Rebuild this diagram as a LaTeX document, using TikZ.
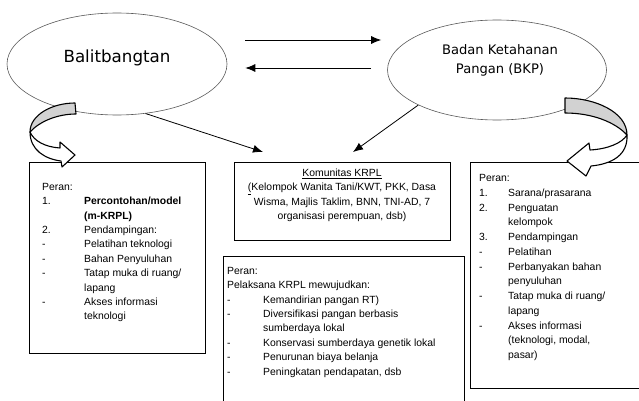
\documentclass[tikz,border=0pt]{standalone}
\usepackage{fontspec}
\setmainfont{Liberation Sans}
\newfontfamily\elipsfont{DejaVu Sans}
\usetikzlibrary{arrows.meta,shapes.geometric}

\tikzset{
  elips/.style={ellipse, draw=black!65, line width=0.6pt, inner sep=0pt},
  kotak/.style={draw, line width=0.8pt, inner sep=0pt},
  isi/.style={anchor=north west, inner sep=0pt, font=\fontsize{10.4}{14.4}\selectfont},
  panah/.style={-{Latex[length=10pt,width=8pt]}, line width=0.8pt},
  lengkung/.style={line width=1.1pt, line join=round}
}

\begin{document}
\begin{tikzpicture}[x=1pt,y=1pt]
        \useasboundingbox (0,0) rectangle (639,-401);

        % Lembaga
        \node[elips, minimum width=220, minimum height=102] (balit) at (117,-64) {};
        \node[font=\elipsfont\fontsize{16.7}{20}\selectfont] (balitnama) at (117,-58) {Balitbangtan};
        \node[elips, minimum width=219, minimum height=100] (bkp) at (497,-70) {};
        \node[font=\elipsfont\fontsize{13.1}{19}\selectfont, align=center] (bkpnama) at (500,-60) {Badan Ketahanan\\Pangan (BKP)};

        \draw[panah] ([shift={(18,24)}]balit.east) -- ([shift={(-6,30)}]bkp.west);
        \draw[panah] ([shift={(-16,2)}]bkp.west) -- ([shift={(18,-4)}]balit.east);

        % Kotak
        \node[kotak, minimum width=176, minimum height=191] (peranbalit) at (117,-257.5) {};
        \node[kotak, minimum width=216, minimum height=78] (komunitas) at (342,-201) {};
        \node[kotak, minimum width=241, minimum height=154] (peranmasy) at (343.5,-333) {};
        \node[kotak, minimum width=175, minimum height=226] (peranbkp) at (557.5,-275) {};

        \coordinate (tipkiri) at (263,-152);
        \coordinate (tipkanan) at (353,-152);
        \draw[panah] (balit.-60) -- (tipkiri);
        \draw[panah] (bkp.204) -- (tipkanan);

        % Isi kotak
        \node[isi] (teksbalit) at (42,-180) {\begin{tabular}{@{}p{42pt}@{}l@{}}
            Peran: & \\
            1. & \textbf{Percontohan/model}\\
               & \textbf{(m-KRPL)}\\
            2. & Pendampingan:\\
            -  & Pelatihan teknologi\\
            -  & Bahan Penyuluhan\\
            -  & Tatap muka di ruang/\\
               & lapang\\
            -  & Akses informasi\\
               & teknologi
        \end{tabular}};

        \node[isi, anchor=north] (tekskom) at (342,-166) {\begin{tabular}{@{}c@{}}
            \underline{Komunitas KRPL}\\
            \underline{(}Kelompok Wanita Tani/KWT, PKK, Dasa\\
            Wisma, Majlis Taklim, BNN, TNI-AD, 7\\
            organisasi perempuan, dsb)
        \end{tabular}};

        \node[isi] (teksmasy) at (227,-264) {\begin{tabular}{@{}p{36pt}@{}l@{}}
            \multicolumn{2}{@{}l@{}}{Peran:}\\
            \multicolumn{2}{@{}l@{}}{Pelaksana KRPL mewujudkan:}\\
            - & Kemandirian pangan RT)\\
            - & Diversifikasi pangan berbasis\\
              & sumberdaya lokal\\
            - & Konservasi sumberdaya genetik lokal\\
            - & Penurunan biaya belanja\\
            - & Peningkatan pendapatan, dsb
        \end{tabular}};

        \node[isi, font=\fontsize{10.4}{14.75}\selectfont] (teksbkp) at (479,-171) {\begin{tabular}{@{}p{29pt}@{}l@{}}
            Peran: & \\
            1. & Sarana/prasarana\\
            2. & Penguatan\\
               & kelompok\\
            3. & Pendampingan\\
            -  & Pelatihan\\
            -  & Perbanyakan bahan\\
               & penyuluhan\\
            -  & Tatap muka di ruang/\\
               & lapang\\
            -  & Akses informasi\\
               & (teknologi, modal,\\
               & pasar)
        \end{tabular}};

        % Panah lengkung kiri
        \filldraw[lengkung, fill=gray!35] (75,-103) .. controls (52,-103) and (30,-115) .. (30,-132)
            .. controls (40,-121) and (58,-114) .. (76,-114) -- cycle;
        \filldraw[lengkung, fill=white] (30,-132) .. controls (30,-150) and (45,-159) .. (61,-161)
            -- (62,-167) -- (75,-155) -- (60,-142) -- (60,-148)
            .. controls (45,-147) and (34,-141) .. (30,-132) -- cycle;

        % Panah lengkung kanan
        \filldraw[lengkung, fill=gray!35] (565,-98) .. controls (595,-98) and (627,-112) .. (627,-135)
            .. controls (615,-122) and (592,-113) .. (565,-113) -- cycle;
        \filldraw[lengkung, fill=white] (627,-135) .. controls (628,-155) and (612,-164) .. (591,-166)
            -- (586,-176) -- (567,-161) -- (589,-143) -- (590,-150)
            .. controls (608,-149) and (622,-143) .. (627,-135) -- cycle;
\end{tikzpicture}
\end{document}
